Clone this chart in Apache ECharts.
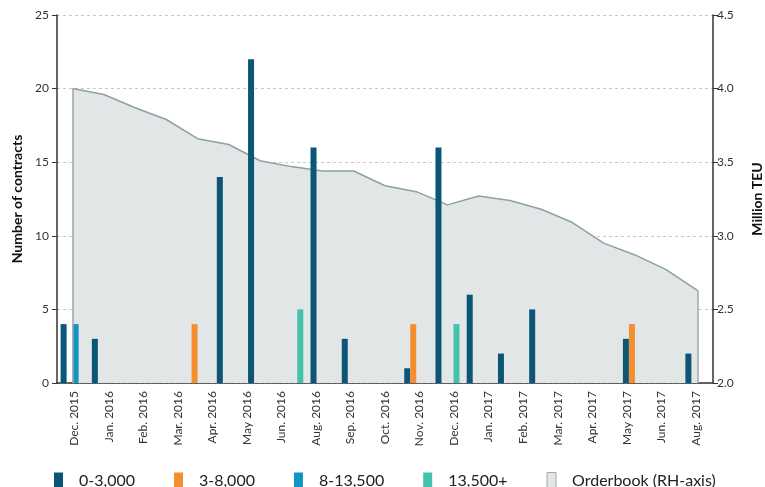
<!DOCTYPE html>
<html>
<head>
<meta charset="utf-8">
<script src="https://cdn.jsdelivr.net/npm/echarts@6/dist/echarts.min.js"></script>
<style>
    html, body { margin: 0; padding: 0; background: #fff; }
    #main { width: 765px; height: 487px; }
</style>
</head>
<body>
<div id="main"></div>
<script type="text/javascript">
    // monthly slots the bars and the orderbook sit on
    var months = ['Dec 2015', 'Jan 2016', 'Feb 2016', 'Mar 2016', 'Apr 2016', 'May 2016', 'Jun 2016',
        'Jul 2016', 'Aug 2016', 'Sep 2016', 'Oct 2016', 'Nov 2016', 'Dec 2016', 'Jan 2017', 'Feb 2017',
        'Mar 2017', 'Apr 2017', 'May 2017', 'Jun 2017', 'Jul 2017', 'Aug 2017'];
    // tick labels printed under the axis
    var tickLabels = ['Dec. 2015', 'Jan. 2016', 'Feb. 2016', 'Mar. 2016', 'Apr. 2016', 'May 2016',
        'Jun. 2016', 'Aug. 2016', 'Sep. 2016', 'Oct. 2016', 'Nov. 2016', 'Dec. 2016', 'Jan. 2017',
        'Feb. 2017', 'Mar. 2017', 'Apr. 2017', 'May 2017', 'Jun. 2017', 'Aug. 2017'];

    var size0to3000 = [4, 3, null, null, null, 14, 22, null, 16, 3, null, 1, 16, 6, 2, 5, null, null, 3, null, 2];
    var size3to8000 = [null, null, null, null, 4, null, null, null, null, null, null, 4, null, null, null, null, null, null, 4, null, null];
    var size8to13500 = [4, null, null, null, null, null, null, null, null, null, null, null, null, null, null, null, null, null, null, null, null];
    var size13500plus = [null, null, null, null, null, null, null, 5, null, null, null, null, 4, null, null, null, null, null, null, null, null];
    var orderbook = [4.00, 3.96, 3.87, 3.79, 3.66, 3.62, 3.51, 3.47, 3.44, 3.44, 3.34,
        3.30, 3.21, 3.27, 3.24, 3.18, 3.09, 2.95, 2.87, 2.77, 2.63];

    var rightMin = 2.0;
    var lastIdx = orderbook.length - 1;

    var myChart = echarts.init(document.getElementById('main'));
    var font = 'Lato';

    var option = {
        animation: false,
        textStyle: { fontFamily: font },
        grid: { left: 57, right: 52, top: 15, bottom: 104, outerBoundsMode: 'none', containLabel: false },
        legend: {
            top: 467,
            left: 49,
            icon: 'rect',
            itemWidth: 9,
            itemHeight: 16,
            itemGap: 39,
            textStyle: { fontFamily: font, fontSize: 16, color: '#222', padding: [0, 0, 0, 11] },
            data: [
                { name: '0-3,000' },
                { name: '3-8,000' },
                { name: '8-13,500' },
                { name: '13,500+' },
                { name: 'Orderbook (RH-axis)', itemStyle: { color: '#e2e6e7', borderColor: '#a0a8a8', borderWidth: 1 } }
            ]
        },
        xAxis: [
            {
                type: 'category',
                position: 'top',
                data: months,
                boundaryGap: true,
                axisLine: { show: false },
                axisTick: { show: false },
                axisLabel: { show: false }
            },
            {
                type: 'category',
                position: 'bottom',
                data: tickLabels,
                boundaryGap: true,
                axisLine: { show: true, lineStyle: { color: '#333', width: 1.5 } },
                axisTick: { show: false },
                axisLabel: { rotate: 90, fontSize: 12, color: '#333', margin: 8, interval: 0 }
            }
        ],
        yAxis: [
            {
                type: 'value',
                min: 0,
                max: 25,
                interval: 5,
                name: 'Number of contracts',
                nameLocation: 'middle',
                nameRotate: 90,
                nameGap: 28,
                nameTextStyle: { fontFamily: font, fontSize: 14, fontWeight: 'bold', color: '#111' },
                axisLine: { show: true, lineStyle: { color: '#333', width: 1.5 } },
                axisTick: { show: true, length: 5, lineStyle: { color: '#333' } },
                axisLabel: { fontSize: 12, color: '#333', margin: 8 },
                splitLine: { show: true, lineStyle: { color: '#c8c8c8', type: [3, 3] } }
            },
            {
                type: 'value',
                min: rightMin,
                max: 4.5,
                interval: 0.5,
                position: 'right',
                name: 'Million TEU',
                nameLocation: 'middle',
                nameRotate: 90,
                nameGap: 37,
                nameTextStyle: { fontFamily: font, fontSize: 14, fontWeight: 'bold', color: '#111' },
                axisLine: { show: true, lineStyle: { color: '#333', width: 1.5 } },
                axisTick: { show: true, length: 5, lineStyle: { color: '#333' } },
                axisLabel: { fontSize: 12, color: '#333', margin: 4, formatter: function (v) { return v.toFixed(1); } },
                splitLine: { show: false }
            }
        ],
        series: [
            {
                name: 'Orderbook (RH-axis)',
                type: 'line',
                xAxisIndex: 0,
                yAxisIndex: 1,
                data: orderbook,
                symbol: 'none',
                z: 1,
                lineStyle: { color: '#8fa0a0', width: 1.5 },
                itemStyle: { color: '#e2e6e7', borderColor: '#a0a8a8' },
                areaStyle: { color: '#e2e6e7', opacity: 1 },
                markLine: {
                    silent: true,
                    symbol: 'none',
                    label: { show: false },
                    lineStyle: { color: '#9aa8a8', width: 1.5, type: 'solid' },
                    data: [
                        [{ coord: [0, rightMin] }, { coord: [0, orderbook[0]] }],
                        [{ coord: [lastIdx, rightMin] }, { coord: [lastIdx, orderbook[lastIdx]] }]
                    ]
                }
            },
            { name: '0-3,000', type: 'bar', xAxisIndex: 0, yAxisIndex: 0, data: size0to3000, barWidth: 6, barGap: '0%', itemStyle: { color: '#0b5577' }, z: 3 },
            { name: '3-8,000', type: 'bar', xAxisIndex: 0, yAxisIndex: 0, data: size3to8000, barWidth: 6, barGap: '0%', itemStyle: { color: '#f58e31' }, z: 3 },
            { name: '8-13,500', type: 'bar', xAxisIndex: 0, yAxisIndex: 0, data: size8to13500, barWidth: 6, barGap: '0%', itemStyle: { color: '#1295c3' }, z: 3 },
            { name: '13,500+', type: 'bar', xAxisIndex: 0, yAxisIndex: 0, data: size13500plus, barWidth: 6, barGap: '0%', itemStyle: { color: '#45c2ab' }, z: 3 }
        ]
    };
    myChart.setOption(option);
</script>
</body>
</html>
